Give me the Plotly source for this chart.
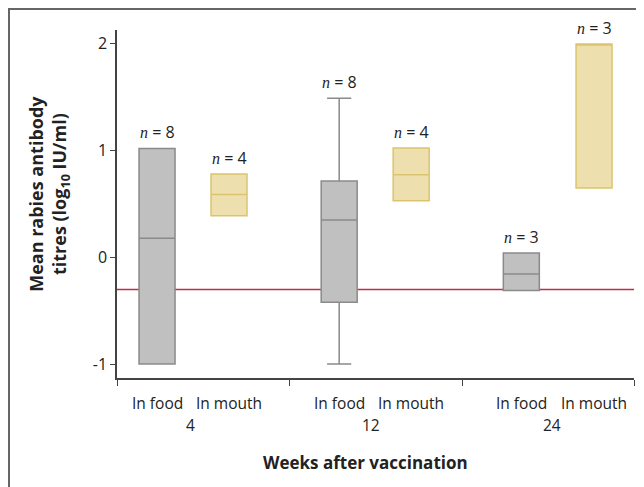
import plotly.graph_objects as go

# ---- data ----
weeks = ["4", "12", "24"]
routes = ["In food", "In mouth"]
n_counts = [8, 4, 8, 4, 3, 3]
lower = [-1.00, 0.39, -1.00, 0.53, -0.31, 0.65]
q1 = [-1.00, 0.39, -0.42, 0.53, -0.31, 0.65]
median = [0.18, 0.59, 0.35, 0.775, -0.155, 2.00]
q3 = [1.02, 0.78, 0.715, 1.025, 0.04, 2.00]
upper = [1.02, 0.78, 1.49, 1.025, 0.04, 2.00]
threshold = -0.301  # log10(0.5 IU/ml)

# layout positions (x in units along numeric axis)
xpos = [0, 1, 2.53, 3.53, 5.06, 6.07]
group_mid = [0.47, 2.97, 5.49]
separators = [-0.556, 1.833, 4.236, 6.625]

fill = ["#c0c0c0", "#ede0ae"]
edge = ["#8a8a8a", "#dcc46e"]

fig = go.Figure()
for i in range(6):
    k = i % 2
    fig.add_trace(go.Box(
        x=[xpos[i]], q1=[q1[i]], median=[median[i]], q3=[q3[i]],
        lowerfence=[lower[i]], upperfence=[upper[i]],
        width=0.5, whiskerwidth=0.67,
        fillcolor=fill[k], line=dict(color=edge[k], width=1.5),
        showlegend=False, hoverinfo="skip", boxpoints=False,
    ))

shapes = [
    dict(type="line", xref="paper", x0=0, x1=1, yref="y", y0=threshold, y1=threshold,
         line=dict(color="#be2d48", width=1.5), layer="below"),
    dict(type="rect", xref="paper", yref="paper", x0=-0.2089, x1=1.2, y0=-0.4, y1=1.0603,
         line=dict(color="#666666", width=2), fillcolor="rgba(0,0,0,0)"),
]

txt = "#222222"
annotations = []
for i in range(6):
    annotations.append(dict(
        x=xpos[i], y=upper[i], xref="x", yref="y", yanchor="bottom", yshift=3,
        showarrow=False,
        text="<span style=\"font-family:'Liberation Serif'\"><i>n</i></span> = %d" % n_counts[i],
        font=dict(size=16, color=txt, family="Open Sans"),
    ))
    annotations.append(dict(
        x=xpos[i], y=-0.072, xref="x", yref="paper", yanchor="middle",
        showarrow=False, text=routes[i % 2],
        font=dict(size=15.5, color=txt, family="Open Sans"),
    ))
for g in range(3):
    annotations.append(dict(
        x=group_mid[g], y=-0.135, xref="x", yref="paper", yanchor="middle",
        showarrow=False, text=weeks[g],
        font=dict(size=15.5, color=txt, family="Open Sans"),
    ))
annotations.append(dict(
    x=0.48, y=-0.243, xref="paper", yref="paper", yanchor="middle",
    showarrow=False, text="<b>Weeks after vaccination</b>",
    font=dict(size=17, color=txt, family="Open Sans"),
))
annotations.append(dict(
    x=-0.133, y=0.53, xref="paper", yref="paper", xanchor="center", yanchor="middle",
    showarrow=False, textangle=-90,
    text="<b>Mean rabies antibody<br>titres (log<sub>10</sub> IU/ml)</b>",
    font=dict(size=18, color=txt, family="Open Sans"),
))

fig.update_layout(
    width=636, height=479,
    margin=dict(l=109, r=10, t=22, b=109, autoexpand=False),
    paper_bgcolor="white", plot_bgcolor="white",
    shapes=shapes, annotations=annotations,
    xaxis=dict(range=[separators[0], separators[-1]], tickvals=separators,
               ticktext=["", "", "", ""], ticks="outside", ticklen=6,
               tickcolor="#444444", showline=True, linecolor="#444444", linewidth=1.5,
               showgrid=False, zeroline=False, automargin=False),
    yaxis=dict(range=[-1.13, 2.13], tickvals=[-1, 0, 1, 2], ticktext=["-1", "0", "1", "2"],
               ticks="outside", ticklen=5, tickcolor="#444444",
               showline=True, linecolor="#444444", linewidth=1.5,
               showgrid=False, zeroline=False, automargin=False,
               tickfont=dict(size=16, color=txt, family="Open Sans")),
)

fig.write_html("out.html")
